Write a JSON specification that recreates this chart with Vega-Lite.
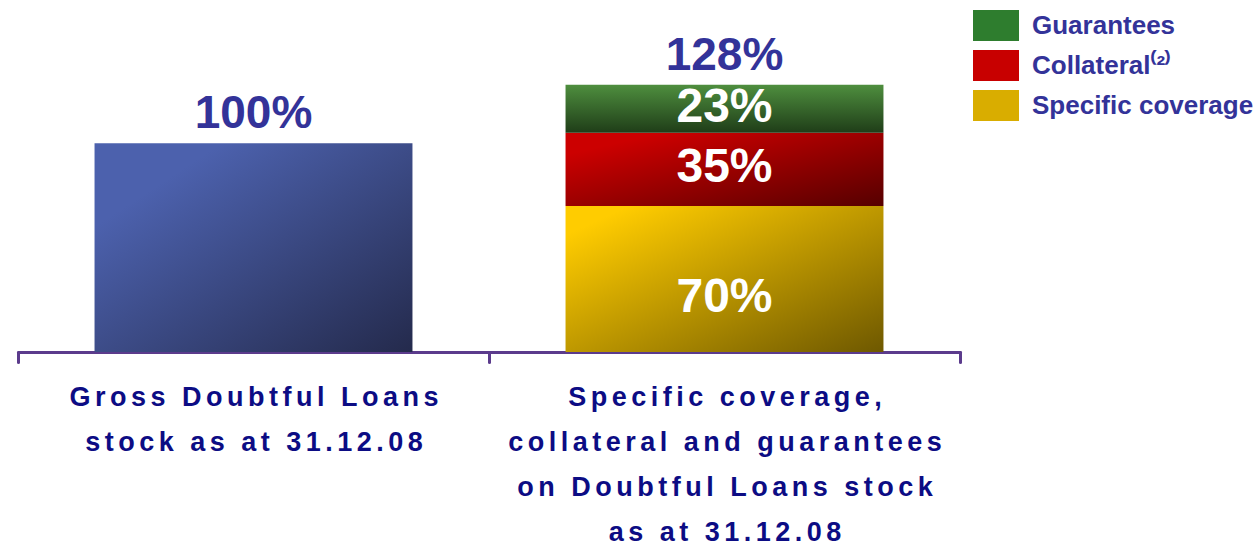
{
  "$schema": "https://vega.github.io/schema/vega-lite/v6.json",
  "width": 942,
  "height": 334,
  "autosize": "none",
  "padding": {"left": 18, "top": 18, "right": 299, "bottom": 195},
  "background": "white",
  "config": {"view": {"stroke": null}, "font": "Liberation Sans"},
  "data": {
    "values": [
      {"cat": "Gross Doubtful Loans|stock as at 31.12.08", "component": "Gross Doubtful Loans", "value": 100, "ord": 0},
      {"cat": "Specific coverage,|collateral and guarantees|on Doubtful Loans stock|as at 31.12.08", "component": "Specific coverage", "value": 70, "ord": 1},
      {"cat": "Specific coverage,|collateral and guarantees|on Doubtful Loans stock|as at 31.12.08", "component": "Collateral⁽²⁾", "value": 35, "ord": 2},
      {"cat": "Specific coverage,|collateral and guarantees|on Doubtful Loans stock|as at 31.12.08", "component": "Guarantees", "value": 23, "ord": 3}
    ]
  },
  "encoding": {
    "x": {
      "field": "cat",
      "type": "nominal",
      "sort": ["Gross Doubtful Loans|stock as at 31.12.08", "Specific coverage,|collateral and guarantees|on Doubtful Loans stock|as at 31.12.08"],
      "scale": {"paddingInner": 0, "paddingOuter": 0},
      "axis": {
        "title": null,
        "domainColor": "#5b3b8c",
        "domainWidth": 3,
        "domainCap": "round",
        "tickColor": "#5b3b8c",
        "tickWidth": 3,
        "tickSize": 10,
        "tickCap": "round",
        "tickBand": "extent",
        "labelAngle": 0,
        "labelFont": "Liberation Sans",
        "labelFontSize": 27,
        "labelFontWeight": "bold",
        "labelColor": "#0c0c84",
        "labelLineHeight": 45,
        "labelBaseline": "top",
        "labelPadding": 22,
        "labelOverlap": false,
        "labelBound": false,
        "labelLimit": 0,
        "labelExpr": "split(replace(datum.label, regexp('([^|])(?=[^|])', 'g'), '$1\u2006'), '|')"
      }
    }
  },
  "layer": [
    {
      "mark": {"type": "bar", "width": {"band": 0.675}},
      "encoding": {
        "y": {"field": "value", "type": "quantitative", "stack": "zero", "scale": {"domain": [0, 160]}, "axis": null},
        "order": {"field": "ord"},
        "color": {
          "field": "component",
          "type": "nominal",
          "scale": {
            "domain": ["Guarantees", "Collateral⁽²⁾", "Specific coverage", "Gross Doubtful Loans"],
            "range": ["#2e7d2e", "#c80000", "#d9ad00", "#3f4f99"]
          },
          "legend": {
            "orient": "none",
            "legendX": 955,
            "legendY": -8,
            "title": null,
            "padding": 0,
            "values": ["Guarantees", "Collateral⁽²⁾", "Specific coverage"],
            "symbolType": "M-1,-0.674H1V0.674H-1Z",
            "symbolSize": 2116,
            "symbolStrokeWidth": 0,
            "clipHeight": 31,
            "rowPadding": 9,
            "labelFont": "Liberation Sans",
            "labelFontSize": 26,
            "labelFontWeight": "bold",
            "labelColor": "#333399",
            "labelOffset": 13,
            "labelLimit": 400
          },
          "condition": [
            {"test": "datum.component === 'Guarantees'", "value": {"gradient": "linear", "x1": 0, "y1": 0, "x2": 0, "y2": 1, "stops": [{"offset": 0, "color": "#4e8e3e"}, {"offset": 1, "color": "#1f3d18"}]}},
            {"test": "datum.component === 'Collateral⁽²⁾'", "value": {"gradient": "linear", "x1": 0, "y1": 0, "x2": 1, "y2": 1, "stops": [{"offset": 0.15, "color": "#cc0000"}, {"offset": 1, "color": "#560000"}]}},
            {"test": "datum.component === 'Specific coverage'", "value": {"gradient": "linear", "x1": 0, "y1": 0, "x2": 1, "y2": 1, "stops": [{"offset": 0.1, "color": "#ffcc00"}, {"offset": 1, "color": "#6e5800"}]}},
            {"test": "datum.component === 'Gross Doubtful Loans'", "value": {"gradient": "linear", "x1": 0, "y1": 0, "x2": 1, "y2": 1, "stops": [{"offset": 0.2, "color": "#4c61ad"}, {"offset": 1, "color": "#242a4c"}]}}
          ]
        }
      }
    },
    {
      "transform": [
        {"stack": "value", "groupby": ["cat"], "sort": [{"field": "ord"}], "as": ["y0", "y1"]},
        {"calculate": "(datum.y0 + datum.y1) / 2", "as": "mid"},
        {"calculate": "datum.value + '%'", "as": "lbl"},
        {"filter": "datum.ord == 2 || datum.ord == 3"}
      ],
      "mark": {"type": "text", "color": "white", "font": "Liberation Sans", "fontWeight": "bold", "fontSize": 48, "baseline": "middle", "dy": -1},
      "encoding": {
        "y": {"field": "mid", "type": "quantitative", "scale": {"domain": [0, 160]}},
        "text": {"field": "lbl"}
      }
    },
    {
      "transform": [
        {"stack": "value", "groupby": ["cat"], "sort": [{"field": "ord"}], "as": ["y0", "y1"]},
        {"calculate": "(datum.y0 + datum.y1) / 2", "as": "mid"},
        {"calculate": "datum.value + '%'", "as": "lbl"},
        {"filter": "datum.ord == 1"}
      ],
      "mark": {"type": "text", "color": "white", "font": "Liberation Sans", "fontWeight": "bold", "fontSize": 48, "baseline": "middle", "dy": 19},
      "encoding": {
        "y": {"field": "mid", "type": "quantitative", "scale": {"domain": [0, 160]}},
        "text": {"field": "lbl"}
      }
    },
    {
      "transform": [
        {"aggregate": [{"op": "sum", "field": "value", "as": "total"}], "groupby": ["cat"]},
        {"calculate": "datum.total + '%'", "as": "lbl"}
      ],
      "mark": {"type": "text", "color": "#333399", "font": "Liberation Sans", "fontWeight": "bold", "fontSize": 46, "baseline": "alphabetic", "dy": -15},
      "encoding": {
        "y": {"field": "total", "type": "quantitative", "scale": {"domain": [0, 160]}},
        "text": {"field": "lbl"}
      }
    }
  ]
}
